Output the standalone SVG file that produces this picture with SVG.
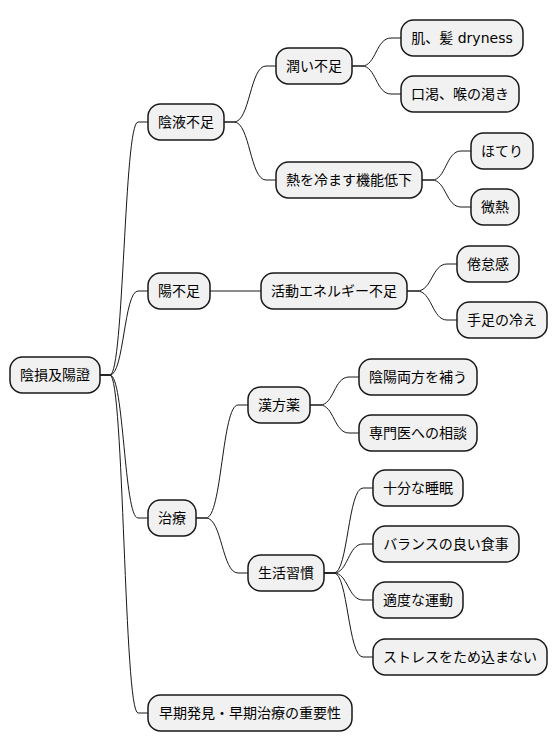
<svg xmlns="http://www.w3.org/2000/svg" width="558" height="752" viewBox="0 0 558 752">
<style>
.n rect{fill:#F1F1F1;stroke:#181818;stroke-width:1.5}
.n text{font-family:"DejaVu Sans","Noto Sans CJK JP",sans-serif;font-size:14px;fill:#000;text-anchor:middle}
.c path{fill:none;stroke:#181818;stroke-width:1}
</style>
<rect width="558" height="752" fill="#FFFFFF"/>
<g class="c">
<path d="M100,375 H110 C124,375 124,122 138,122 H148"/>
<path d="M100,375 H110 C124,375 124,291 138,291 H148"/>
<path d="M100,375 H110 C124,375 124,518 138,518 H148"/>
<path d="M100,375 H110 C124,375 124,713 138,713 H148"/>
<path d="M224,122 H234 C250,122 250,66 266,66 H276"/>
<path d="M224,122 H234 C250,122 250,180 266,180 H276"/>
<path d="M210,291 H261"/>
<path d="M196,518 H206 C222,518 222,405 238,405 H248"/>
<path d="M196,518 H206 C222,518 222,573 238,573 H248"/>
<path d="M352,66 H362 C376,66 376,38 391,38 H401"/>
<path d="M352,66 H362 C376,66 376,94 391,94 H401"/>
<path d="M422,180 H432 C446,180 446,151 461,151 H471"/>
<path d="M422,180 H432 C446,180 446,207 461,207 H471"/>
<path d="M407,291 H417 C432,291 432,264 447,264 H457"/>
<path d="M407,291 H417 C432,291 432,320 447,320 H457"/>
<path d="M310,405 H320 C334,405 334,377 349,377 H359"/>
<path d="M310,405 H320 C334,405 334,433 349,433 H359"/>
<path d="M324,573 H334 C348,573 348,488 363,488 H373"/>
<path d="M324,573 H334 C348,573 348,544 363,544 H373"/>
<path d="M324,573 H334 C348,573 348,600 363,600 H373"/>
<path d="M324,573 H334 C348,573 348,657 363,657 H373"/>
</g>
<g id="root" class="n"><rect x="10" y="357" width="90" height="36" rx="12.5"/><text x="55" y="380">陰損及陽證</text></g>
<g id="n1" class="n"><rect x="148" y="104" width="76" height="36" rx="12.5"/><text x="186" y="127">陰液不足</text></g>
<g id="n2" class="n"><rect x="148" y="273" width="62" height="36" rx="12.5"/><text x="179" y="296">陽不足</text></g>
<g id="n3" class="n"><rect x="148" y="500" width="48" height="36" rx="12.5"/><text x="172" y="523">治療</text></g>
<g id="n4" class="n"><rect x="148" y="695" width="204" height="36" rx="12.5"/><text x="250" y="718">早期発見・早期治療の重要性</text></g>
<g id="n11" class="n"><rect x="276" y="48" width="76" height="36" rx="12.5"/><text x="314" y="71">潤い不足</text></g>
<g id="n12" class="n"><rect x="276" y="162" width="146" height="36" rx="12.5"/><text x="349" y="185">熱を冷ます機能低下</text></g>
<g id="n21" class="n"><rect x="261" y="273" width="146" height="36" rx="12.5"/><text x="334" y="296">活動エネルギー不足</text></g>
<g id="n31" class="n"><rect x="248" y="387" width="62" height="36" rx="12.5"/><text x="279" y="410">漢方薬</text></g>
<g id="n32" class="n"><rect x="248" y="555" width="76" height="36" rx="12.5"/><text x="286" y="578">生活習慣</text></g>
<g id="n111" class="n"><rect x="401" y="20" width="122" height="36" rx="12.5"/><text x="462" y="43">肌、髪 dryness</text></g>
<g id="n112" class="n"><rect x="401" y="76" width="118" height="36" rx="12.5"/><text x="460" y="99">口渇、喉の渇き</text></g>
<g id="n121" class="n"><rect x="471" y="133" width="62" height="36" rx="12.5"/><text x="502" y="156">ほてり</text></g>
<g id="n122" class="n"><rect x="471" y="189" width="48" height="36" rx="12.5"/><text x="495" y="212">微熱</text></g>
<g id="n211" class="n"><rect x="457" y="246" width="62" height="36" rx="12.5"/><text x="488" y="269">倦怠感</text></g>
<g id="n212" class="n"><rect x="457" y="302" width="90" height="36" rx="12.5"/><text x="502" y="325">手足の冷え</text></g>
<g id="n311" class="n"><rect x="359" y="359" width="118" height="36" rx="12.5"/><text x="418" y="382">陰陽両方を補う</text></g>
<g id="n312" class="n"><rect x="359" y="415" width="118" height="36" rx="12.5"/><text x="418" y="438">専門医への相談</text></g>
<g id="n321" class="n"><rect x="373" y="470" width="90" height="36" rx="12.5"/><text x="418" y="493">十分な睡眠</text></g>
<g id="n322" class="n"><rect x="373" y="526" width="146" height="36" rx="12.5"/><text x="446" y="549">バランスの良い食事</text></g>
<g id="n323" class="n"><rect x="373" y="582" width="90" height="36" rx="12.5"/><text x="418" y="605">適度な運動</text></g>
<g id="n324" class="n"><rect x="373" y="639" width="174" height="36" rx="12.5"/><text x="460" y="662">ストレスをため込まない</text></g>
</svg>
